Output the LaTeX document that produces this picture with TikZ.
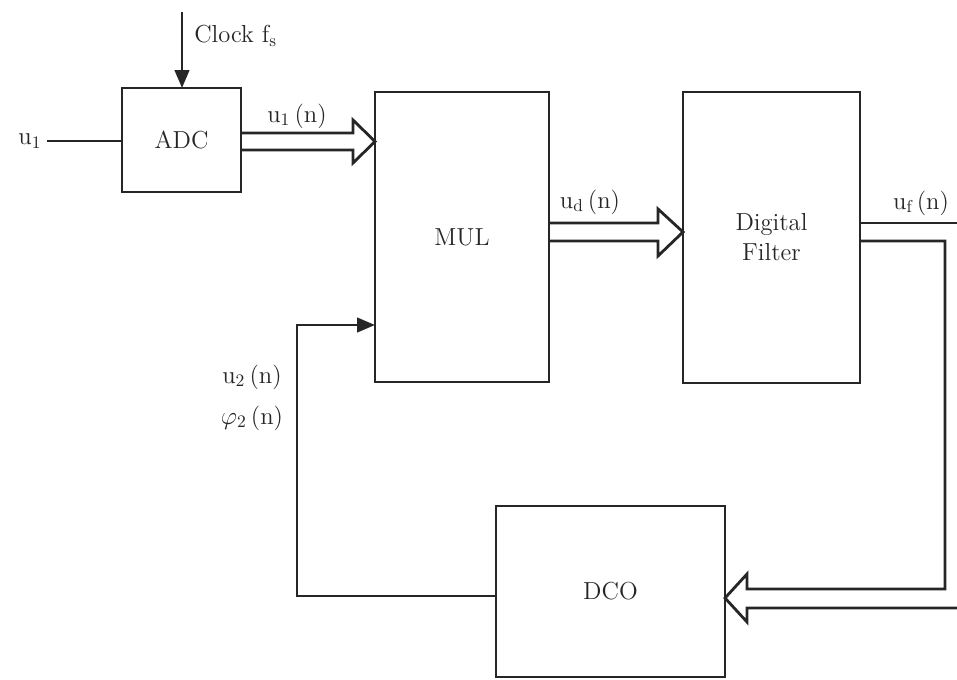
\documentclass[tikz,border=0pt]{standalone}
\usepackage{fontspec}
\usepackage{amsmath}
\usetikzlibrary{positioning,calc,arrows.meta}

\tikzset{
  blk/.style={draw, line width=1.6pt, inner sep=0pt, outer sep=0pt, align=center},
  wire/.style={line width=1.6pt, line join=miter},
  lbl/.style={inner sep=0pt},
  tip/.style={-{Triangle[length=3.6mm,width=2.9mm]}},
}

\begin{document}
\begin{tikzpicture}[x=0.2mm, y=-0.2mm, color=black!85, font=\fontsize{14}{17}\selectfont]

\useasboundingbox (0,0) rectangle (957,679);

% blocks
\node[blk, minimum width=23.8mm, minimum height=20.8mm] (adc) at (181.5,140) {ADC};
\node[blk, minimum width=34.8mm, minimum height=58mm] (mul) at (462,237) {MUL};
\node[blk, minimum width=35.4mm, minimum height=58.2mm] (filt) at (771.5,237.5) {Digital\\Filter};
\node[blk, minimum width=45.8mm, minimum height=34.2mm] (dco) at (610.5,591.5) {DCO};

% clock input
\coordinate (clk) at (182,12);
\draw[wire, tip] (clk) -- (clk |- adc.north);
\node[lbl, anchor=west] (clklbl) at (194,36) {Clock f$_\mathrm{s}$};

% analog input
\node[lbl] (u1) at (30,141) {u$_1$};
\draw[wire] ([xshift=1mm]u1.east) -- (adc.west |- u1.east);

% u1(n)
\draw[wire] (adc.east |- 0,133) -- (353,133) -- (353,120) -- (mul.west |- 0,141.5)
  -- (353,163) -- (353,150) -- (adc.east |- 0,150);
\node[lbl] (u1n) at (297,116) {u$_1$\,(n)};

% ud(n)
\draw[wire] (mul.east |- 0,223) -- (658,223) -- (658,209) -- (filt.west |- 0,232)
  -- (658,256) -- (658,241) -- (mul.east |- 0,241);
\node[lbl] (udn) at (590,202) {u$_\mathrm{d}$\,(n)};

% uf(n) back to the DCO
\draw[wire] (filt.east |- 0,223) -- (962,223);
\draw[wire] (962,608) -- (747,608) -- (747,622) -- (dco.east |- 0,598)
  -- (747,574) -- (747,589) -- (945,589) -- (945,241) -- (filt.east |- 0,241);
\node[lbl] (ufn) at (921,203) {u$_\mathrm{f}$\,(n)};

% feedback to MUL
\coordinate (fb) at (297,596);
\draw[wire, tip] (dco.west |- fb) -- (fb) |- (mul.west |- 0,325);
\node[lbl] (u2n) at (252,377) {u$_2$\,(n)};
\node[lbl] (phi2n) at (252,418) {$\varphi_2$\,(n)};

\end{tikzpicture}
\end{document}
